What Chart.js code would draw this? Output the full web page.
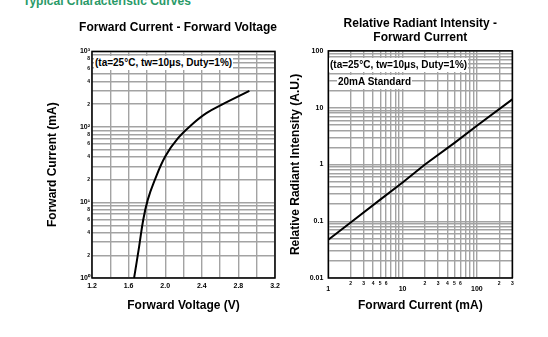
<!DOCTYPE html>
<html>
<head>
<meta charset="utf-8">
<script src="https://cdn.jsdelivr.net/npm/chart.js@4"></script>
<style>
  html, body { margin: 0; padding: 0; background: #fff; }
  body { width: 548px; height: 337px; position: relative; overflow: hidden; font-family: "Liberation Sans", Arial, sans-serif; }
  .heading { position: absolute; left: 23px; top: -6px; font: bold 12px "Liberation Sans", Arial, sans-serif; color: #2a9a68; }
  .box { position: absolute; }
  .note { position: absolute; background: #fff; font: bold 10px "Liberation Sans", Arial, sans-serif; color: #000; line-height: 12px; white-space: nowrap; padding: 1px 1px; }
</style>
</head>
<body>
<div class="heading">Typical Characteristic Curves</div>
<div class="box" style="left:0;top:0;width:290px;height:337px"><canvas id="ivChart"></canvas></div>
<div class="box" style="left:282px;top:0;width:266px;height:337px"><canvas id="riChart"></canvas></div>
<div class="note" style="left:94px;top:56px">(ta=25°C, tw=10μs, Duty=1%)</div>
<div class="note" style="left:329px;top:58px">(ta=25°C, tw=10μs, Duty=1%)</div>
<div class="note" style="left:337px;top:75px">20mA Standard</div>

<script>
// Forward Current vs Forward Voltage
const fwdVoltage = [1.66, 1.715, 1.76, 1.81, 1.88, 2.0, 2.14, 2.29, 2.45, 2.65, 2.92];
const fwdCurrent = [1, 2.6, 5.9, 10.9, 19, 40.6, 71, 107, 152, 206, 300];

// Relative Radiant Intensity vs Forward Current
const riCurrent = [1, 2, 5, 10, 20, 50, 100, 300];
const riIntensity = [0.047, 0.095, 0.24, 0.48, 1.0, 2.4, 4.8, 14];

// tick values / labels
const voltTicks = [1.2, 1.4, 1.6, 1.8, 2.0, 2.2, 2.4, 2.6, 2.8, 3.0, 3.2];
const voltLabels = ['1.2', '', '1.6', '', '2.0', '', '2.4', '', '2.8', '', '3.2'];
const decadeSup = {1: '10\u2070', 10: '10\u00b9', 100: '10\u00b2', 1000: '10\u00b3'};
const ivMinorLabels = [2, 4, 6, 8];
const riYLabels = {0.01: '0.01', 0.1: '0.1', 1: '1', 10: '10', 100: '100'};
const riXMajor = [1, 10, 100];
const riXMinor = [2, 3, 4, 5, 6];

function logTicks(min, max) {
  const out = [];
  for (let e = Math.floor(Math.log10(min)); Math.pow(10, e) <= max; e++) {
    for (let m = 1; m <= 9; m++) {
      const v = parseFloat((m * Math.pow(10, e)).toPrecision(3));
      if (v >= min - 1e-12 && v <= max + 1e-9) out.push(v);
    }
  }
  return out;
}
function sig(v) { return Math.round(v / Math.pow(10, Math.floor(Math.log10(v) + 1e-9))); }

const gridColor = '#a3a3a3';
const boldFont = {family: '"Liberation Sans", Arial, sans-serif', weight: 'bold'};

// frame around plot area
const frame = {
  id: 'frame',
  afterDatasetsDraw(chart) {
    const {ctx, chartArea: a} = chart;
    ctx.save();
    ctx.strokeStyle = '#000';
    ctx.lineWidth = 1.5;
    ctx.strokeRect(a.left, a.top, a.right - a.left, a.bottom - a.top);
    ctx.restore();
  }
};

// move the left chart title over the plot, as in the original
const titleShift = {
  id: 'titleShift',
  afterLayout(chart, args, opts) {
    const t = chart.titleBlock;
    if (t) { t.left += opts.dx; t.right += opts.dx; }
  }
};

new Chart(document.getElementById('ivChart'), {
  type: 'scatter',
  data: {
    datasets: [{
      data: fwdVoltage.map((v, i) => ({x: v, y: fwdCurrent[i]})),
      showLine: true,
      borderColor: '#000',
      borderWidth: 2,
      pointRadius: 0,
      tension: 0.4
    }]
  },
  options: {
    responsive: true,
    maintainAspectRatio: false,
    animation: false,
    layout: {padding: {left: 0, right: 15, top: 0, bottom: 0}},
    plugins: {
      legend: {display: false},
      tooltip: {enabled: false},
      titleShift: {dx: 40.5},
      title: {
        display: true,
        text: 'Forward Current - Forward Voltage',
        color: '#000',
        font: {...boldFont, size: 12},
        padding: {top: 20, bottom: 17}
      }
    },
    scales: {
      x: {
        type: 'linear',
        min: 1.2, max: 3.2,
        afterBuildTicks: s => { s.ticks = voltTicks.map(v => ({value: v})); },
        afterFit: s => { s.height = 59; },
        grid: {color: gridColor, lineWidth: 1.4, drawTicks: false},
        border: {display: false},
        ticks: {
          autoSkip: false, maxRotation: 0, padding: 4, color: '#000',
          font: {...boldFont, size: 7},
          callback: (v, i) => voltLabels[i]
        },
        title: {display: true, text: 'Forward Voltage (V)', color: '#000', font: {...boldFont, size: 12}, padding: {top: 0, bottom: 24}}
      },
      y: {
        type: 'logarithmic',
        min: 1, max: 1000,
        afterBuildTicks: s => { s.ticks = logTicks(1, 1000).map(v => ({value: v})); },
        afterFit: s => { s.width = 92; },
        grid: {color: gridColor, lineWidth: 1.4, drawTicks: false},
        border: {display: false},
        ticks: {
          autoSkip: false, padding: 2, color: '#000',
          font: ctx => ({...boldFont, size: decadeSup[ctx.tick.value] ? 7 : 5}),
          callback: v => decadeSup[v] || (ivMinorLabels.includes(sig(v)) ? String(sig(v)) : '')
        },
        title: {display: true, text: 'Forward Current (mA)', color: '#000', font: {...boldFont, size: 12}, padding: {top: 45, bottom: 0}}
      }
    }
  },
  plugins: [frame, titleShift]
});

new Chart(document.getElementById('riChart'), {
  type: 'scatter',
  data: {
    datasets: [{
      data: riCurrent.map((v, i) => ({x: v, y: riIntensity[i]})),
      showLine: true,
      borderColor: '#000',
      borderWidth: 2,
      pointRadius: 0
    }]
  },
  options: {
    responsive: true,
    maintainAspectRatio: false,
    animation: false,
    layout: {padding: {left: 0, right: 35.7, top: 0, bottom: 0}},
    plugins: {
      legend: {display: false},
      tooltip: {enabled: false},
      title: {
        display: true,
        fullSize: false,
        text: ['Relative Radiant Intensity -', 'Forward Current'],
        color: '#000',
        font: {...boldFont, size: 12, lineHeight: 1.14},
        padding: {top: 17, bottom: 6.5}
      }
    },
    scales: {
      x: {
        type: 'logarithmic',
        min: 1, max: 300,
        afterBuildTicks: s => { s.ticks = logTicks(1, 300).map(v => ({value: v})); },
        afterFit: s => { s.height = 59; },
        grid: {color: gridColor, lineWidth: 1.4, drawTicks: false},
        border: {display: false},
        ticks: {
          autoSkip: false, maxRotation: 0, padding: 3, color: '#000',
          font: ctx => riXMajor.includes(ctx.tick.value) ? {...boldFont, size: 7, lineHeight: 0.8} : {...boldFont, size: 5},
          callback: v => riXMajor.includes(v) ? ['', String(v)] : (riXMinor.includes(sig(v)) ? String(sig(v)) : '')
        },
        title: {display: true, text: 'Forward Current (mA)', color: '#000', font: {...boldFont, size: 12}, padding: {top: 0, bottom: 24}}
      },
      y: {
        type: 'logarithmic',
        min: 0.01, max: 100,
        afterBuildTicks: s => { s.ticks = logTicks(0.01, 100).map(v => ({value: v})); },
        afterFit: s => { s.width = 46.3; },
        grid: {color: gridColor, lineWidth: 1.4, drawTicks: false},
        border: {display: false},
        ticks: {
          autoSkip: false, padding: 5, color: '#000',
          font: {...boldFont, size: 7},
          callback: v => riYLabels[v] || ''
        },
        title: {display: true, text: 'Relative Radiant Intensity (A.U.)', color: '#000', font: {...boldFont, size: 12}, padding: {top: 6, bottom: 0}}
      }
    }
  },
  plugins: [frame]
});
</script>
</body>
</html>
